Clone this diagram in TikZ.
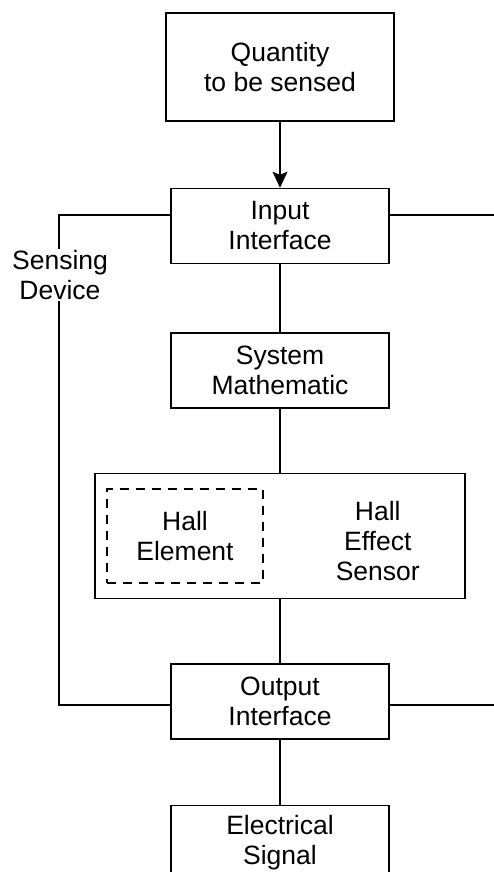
\documentclass[tikz,border=0pt]{standalone}
\usepackage{fontspec}
\setmainfont{Liberation Sans}
\usetikzlibrary{arrows.meta, positioning, calc}

\begin{document}
\begin{tikzpicture}[x=1pt, y=-1pt, line width=1.5pt,
    >={Stealth[length=16pt, width=15pt, inset=3pt]},
    font=\fontsize{26.5}{30}\selectfont,
    blockbox/.style={draw, align=center, minimum width=218pt, minimum height=75pt, inner sep=0pt},
    dashbox/.style={draw, dash pattern=on 9pt off 7pt, align=center, minimum width=156pt, minimum height=94pt, inner sep=0pt}]
    \clip (0,0) rectangle (494,872);
    \node[blockbox, minimum width=228pt, minimum height=108pt] (qty) at (280,67) {Quantity\\to be sensed};
    \node[blockbox, below=66pt of qty] (inif) {Input\\Interface};
    \node[blockbox, below=68pt of inif] (sys) {System\\Mathematic};
    \node[blockbox, minimum width=370pt, minimum height=125pt, below=64pt of sys] (hall) {};
    \node[dashbox, right=12pt of hall.west] (hel) {Hall\\Element};
    \node[align=center, inner sep=0pt] (hes) at ([xshift=-88pt, yshift=-5pt]hall.east) {Hall\\Effect\\Sensor};
    \node[blockbox, below=64pt of hall] (outif) {Output\\Interface};
    \node[blockbox, below=65pt of outif] (elec) {Electrical\\Signal};
    % main chain
    \draw[->] (qty) -- (inif);
    \draw (inif) -- (sys);
    \draw (sys) -- (hall);
    \draw (hall) -- (outif);
    \draw (outif) -- (elec);
    % sensing device frame
    \coordinate (ltop) at (59,215);
    \coordinate (lbot) at (59,705);
    \coordinate (redge) at (494,0);
    \draw (inif.west |- ltop) -- (ltop) -- (lbot) -- (outif.west |- lbot);
    \draw (inif.east |- ltop) -- (redge |- ltop);
    \draw (outif.east |- lbot) -- (redge |- lbot);
    \node[fill=white, inner sep=1pt, align=center] (sdev) at (60,275) {Sensing\\Device};
\end{tikzpicture}
\end{document}
